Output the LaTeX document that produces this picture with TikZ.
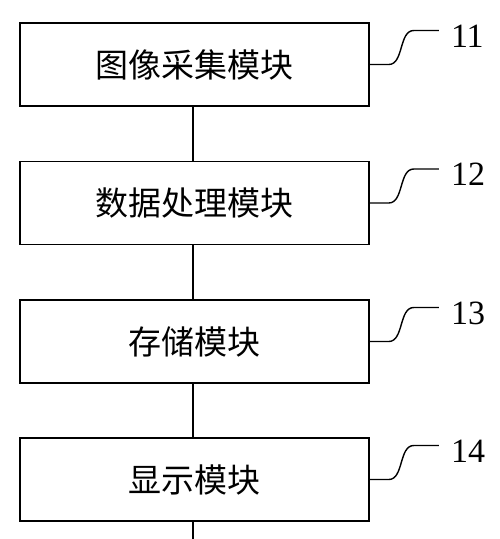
\documentclass[tikz,border=0pt]{standalone}
\usepackage{fontspec}
\setmainfont{Liberation Serif}
\newfontfamily\cjk{Noto Sans CJK SC}
\tikzset{
  modbox/.style={draw=black, line width=1.6pt, minimum width=349pt, minimum height=83pt, inner sep=0pt, font=\cjk\fontsize{33}{36}\selectfont},
  conn/.style={line width=1.6pt},
  lead/.style={line width=1.4pt},
  refnum/.style={font=\rmfamily\fontsize{34}{38}\selectfont, inner sep=0pt}
}
\begin{document}
\begin{tikzpicture}[x=1pt,y=-1pt]
\useasboundingbox (0,0) rectangle (500,539);
\node[modbox] (b1) at (194.5,64.5) {图像采集模块};
\node[modbox] (b2) at (194.5,203) {数据处理模块};
\node[modbox] (b3) at (194.5,341.5) {存储模块};
\node[modbox] (b4) at (194.5,479.5) {显示模块};
\coordinate (bend) at (193,539);
\draw[conn] (b1.south -| 193,0) -- (b2.north -| 193,0);
\draw[conn] (b2.south -| 193,0) -- (b3.north -| 193,0);
\draw[conn] (b3.south -| 193,0) -- (b4.north -| 193,0);
\draw[conn] (b4.south -| 193,0) -- (bend);
\foreach \b/\n in {b1/11,b2/12,b3/13,b4/14}{
  \node[refnum, anchor=west] (\b n) at ([xshift=81pt,yshift=28.5pt]\b.east) {\n};
  \draw[lead] (\b.east) -- ++(19,0) .. controls +(15,0) and +(-15,0) .. ++(25,-34) -- ++(25,0) coordinate (\b t);
}
\end{tikzpicture}
\end{document}
